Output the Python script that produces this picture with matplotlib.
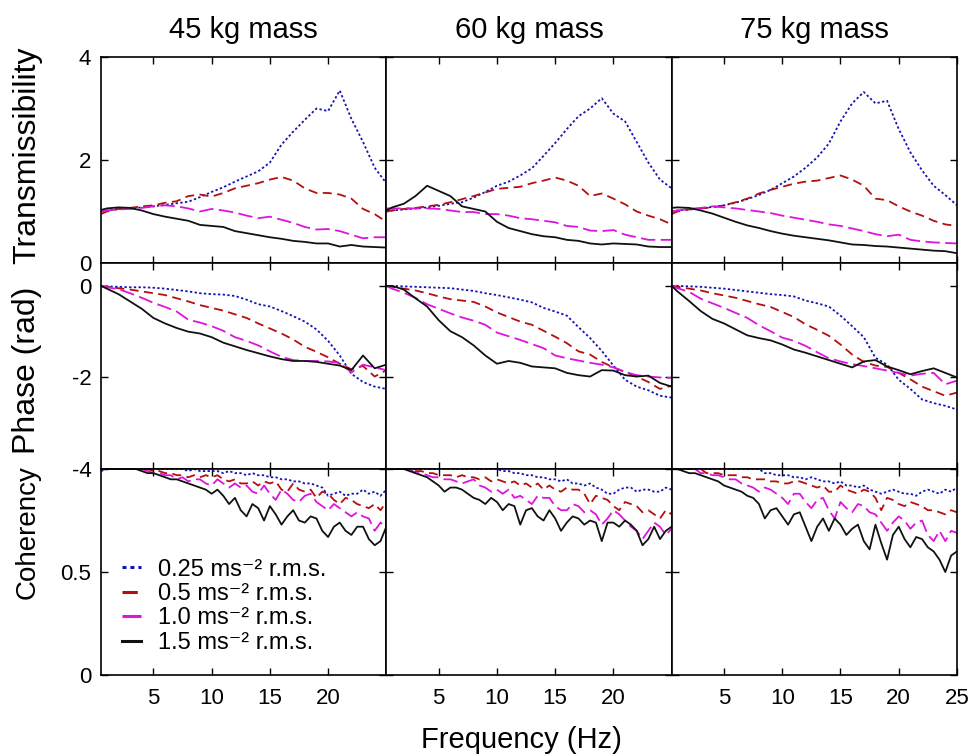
import numpy as np
import matplotlib
matplotlib.use("Agg")
import matplotlib.pyplot as plt

plt.rcParams['font.family'] = ['Liberation Sans', 'DejaVu Sans']
plt.rcParams['axes.unicode_minus'] = False

masses = ["45 kg mass", "60 kg mass", "75 kg mass"]
levels = ["0.25 ms\u207b\u00b2 r.m.s.", "0.5 ms\u207b\u00b2 r.m.s.", "1.0 ms\u207b\u00b2 r.m.s.", "1.5 ms\u207b\u00b2 r.m.s."]

# frequency grids (Hz)
f_tp = [0.5] + list(range(1, 26))
f_coh = [0.5 * k for k in range(1, 51)]

# transmissibility, per mass: 0.25, 0.5, 1.0, 1.5 ms-2
trans_45 = [
    [1.0, 1.02, 1.05, 1.06, 1.08, 1.1, 1.13, 1.16, 1.19, 1.28, 1.38, 1.47, 1.58, 1.68, 1.78, 1.95, 2.3, 2.55, 2.78, 3.0, 2.95, 3.35, 2.8, 2.35, 1.85, 1.55],
    [0.95, 1.0, 1.05, 1.07, 1.1, 1.12, 1.17, 1.2, 1.3, 1.33, 1.29, 1.36, 1.45, 1.5, 1.55, 1.62, 1.67, 1.6, 1.45, 1.36, 1.36, 1.33, 1.25, 1.05, 0.95, 0.8],
    [1.0, 1.02, 1.04, 1.05, 1.07, 1.1, 1.12, 1.1, 1.06, 1.0, 1.05, 1.02, 0.98, 0.92, 0.87, 0.9, 0.84, 0.78, 0.7, 0.65, 0.66, 0.62, 0.55, 0.48, 0.5, 0.5],
    [1.03, 1.06, 1.08, 1.07, 1.02, 0.95, 0.9, 0.86, 0.82, 0.74, 0.72, 0.7, 0.62, 0.58, 0.54, 0.5, 0.47, 0.43, 0.41, 0.38, 0.38, 0.32, 0.35, 0.32, 0.31, 0.3],
]
trans_60 = [
    [1.0, 1.02, 1.04, 1.06, 1.08, 1.11, 1.15, 1.18, 1.27, 1.38, 1.5, 1.58, 1.7, 1.84, 2.08, 2.33, 2.6, 2.85, 3.0, 3.2, 2.9, 2.75, 2.35, 1.95, 1.62, 1.45],
    [1.0, 1.02, 1.05, 1.07, 1.1, 1.13, 1.18, 1.24, 1.3, 1.37, 1.44, 1.46, 1.48, 1.55, 1.6, 1.66, 1.6, 1.5, 1.3, 1.35, 1.25, 1.14, 1.0, 0.92, 0.85, 0.75],
    [1.06, 1.06, 1.06, 1.06, 1.06, 1.05, 1.02, 0.99, 0.99, 0.95, 0.95, 0.92, 0.87, 0.85, 0.82, 0.79, 0.72, 0.7, 0.63, 0.62, 0.64, 0.55, 0.5, 0.45, 0.45, 0.45],
    [1.02, 1.08, 1.15, 1.3, 1.5, 1.4, 1.3, 1.1, 1.05, 1.0, 0.8, 0.68, 0.62, 0.56, 0.52, 0.5, 0.45, 0.43, 0.38, 0.36, 0.38, 0.37, 0.36, 0.32, 0.31, 0.31],
]
trans_75 = [
    [1.0, 1.02, 1.04, 1.06, 1.09, 1.12, 1.17, 1.24, 1.32, 1.42, 1.55, 1.68, 1.85, 2.05, 2.32, 2.75, 3.1, 3.32, 3.1, 3.15, 2.6, 2.15, 1.8, 1.5, 1.32, 1.12],
    [0.95, 1.0, 1.04, 1.06, 1.08, 1.12, 1.18, 1.25, 1.35, 1.42, 1.48, 1.54, 1.58, 1.6, 1.65, 1.7, 1.62, 1.5, 1.25, 1.22, 1.1, 1.0, 0.92, 0.82, 0.75, 0.72],
    [1.0, 1.02, 1.05, 1.07, 1.1, 1.08, 1.06, 1.03, 1.0, 0.97, 0.92, 0.88, 0.84, 0.8, 0.75, 0.72, 0.67, 0.62, 0.56, 0.52, 0.55, 0.45, 0.42, 0.4, 0.39, 0.38],
    [1.07, 1.08, 1.07, 1.02, 0.96, 0.88, 0.8, 0.73, 0.68, 0.62, 0.57, 0.53, 0.5, 0.47, 0.44, 0.4, 0.36, 0.35, 0.33, 0.32, 0.3, 0.28, 0.26, 0.24, 0.23, 0.19],
]

# phase (rad)
phase_45 = [
    [0, -0.01, -0.02, -0.03, -0.03, -0.04, -0.06, -0.09, -0.12, -0.16, -0.18, -0.19, -0.22, -0.3, -0.4, -0.45, -0.55, -0.66, -0.78, -0.95, -1.2, -1.52, -1.92, -2.1, -2.2, -2.25],
    [0, -0.02, -0.05, -0.08, -0.12, -0.16, -0.2, -0.27, -0.34, -0.42, -0.48, -0.54, -0.62, -0.7, -0.82, -0.93, -1.04, -1.17, -1.33, -1.44, -1.56, -1.7, -1.82, -1.75, -1.98, -1.84],
    [0, -0.03, -0.07, -0.16, -0.26, -0.37, -0.46, -0.56, -0.74, -0.8, -0.88, -0.98, -1.12, -1.2, -1.3, -1.43, -1.55, -1.62, -1.64, -1.64, -1.65, -1.68, -1.89, -1.72, -1.78, -1.84],
    [0, -0.06, -0.18, -0.34, -0.5, -0.7, -0.82, -0.92, -1.0, -1.04, -1.12, -1.24, -1.32, -1.4, -1.47, -1.54, -1.6, -1.64, -1.64, -1.66, -1.7, -1.74, -1.84, -1.52, -1.8, -1.72],
]
phase_60 = [
    [0, 0, -0.01, -0.02, -0.03, -0.04, -0.05, -0.08, -0.11, -0.16, -0.2, -0.25, -0.3, -0.36, -0.48, -0.56, -0.65, -0.9, -1.14, -1.42, -1.74, -2.05, -2.2, -2.28, -2.4, -2.44],
    [0, -0.02, -0.06, -0.1, -0.16, -0.23, -0.29, -0.32, -0.35, -0.45, -0.58, -0.68, -0.78, -0.85, -0.98, -1.11, -1.25, -1.43, -1.5, -1.66, -1.78, -1.88, -1.98, -2.1, -2.25, -2.18],
    [0, -0.06, -0.15, -0.26, -0.4, -0.5, -0.6, -0.69, -0.76, -0.85, -1.02, -1.1, -1.18, -1.27, -1.36, -1.52, -1.58, -1.63, -1.68, -1.72, -1.78, -1.88, -1.95, -1.98, -2.0, -2.01],
    [0, 0, -0.08, -0.27, -0.45, -0.75, -0.99, -1.12, -1.3, -1.52, -1.7, -1.64, -1.68, -1.76, -1.78, -1.8, -1.9, -1.95, -1.98, -1.84, -1.85, -1.95, -1.98, -1.96, -2.12, -2.2],
]
phase_75 = [
    [0, 0, -0.01, -0.02, -0.04, -0.06, -0.09, -0.12, -0.15, -0.18, -0.2, -0.23, -0.32, -0.38, -0.45, -0.65, -0.88, -1.12, -1.57, -1.72, -2.05, -2.25, -2.48, -2.56, -2.62, -2.7],
    [0, -0.02, -0.06, -0.1, -0.16, -0.21, -0.26, -0.33, -0.4, -0.46, -0.57, -0.68, -0.84, -0.96, -1.09, -1.28, -1.5, -1.66, -1.74, -1.77, -1.9, -2.04, -2.2, -2.3, -2.4, -2.33],
    [0, -0.05, -0.13, -0.28, -0.38, -0.48, -0.59, -0.7, -0.86, -0.99, -1.13, -1.2, -1.31, -1.45, -1.58, -1.65, -1.71, -1.75, -1.8, -1.85, -1.9, -1.96, -1.92, -1.9, -2.15, -2.07],
    [0, -0.12, -0.33, -0.55, -0.72, -0.82, -0.95, -1.08, -1.14, -1.19, -1.28, -1.39, -1.46, -1.54, -1.62, -1.7, -1.78, -1.65, -1.62, -1.76, -1.84, -1.93, -1.86, -1.8, -1.9, -2.0],
]

# coherency, 0.5 Hz steps
coh_45 = [
    [0.99, 1, 1, 1, 1, 1, 1, 1, 1, 1, 1, 1, 1, 1, 1, 0.99, 1, 0.99, 0.99, 0.99, 0.99, 0.98, 0.99, 0.98, 0.98, 0.97, 0.98, 0.97, 0.97, 0.96, 0.96, 0.95, 0.95, 0.94, 0.94, 0.93, 0.93, 0.92, 0.91, 0.87, 0.88, 0.89, 0.87, 0.88, 0.88, 0.9, 0.88, 0.89, 0.87, 0.9],
    [1, 1, 1, 1, 1, 1, 1, 1, 1, 0.99, 0.99, 0.98, 0.98, 0.97, 0.97, 0.96, 0.97, 0.96, 0.97, 0.96, 0.97, 0.95, 0.94, 0.95, 0.93, 0.93, 0.94, 0.92, 0.94, 0.93, 0.94, 0.9, 0.89, 0.93, 0.9, 0.89, 0.9, 0.86, 0.89, 0.88, 0.85, 0.83, 0.86, 0.85, 0.83, 0.82, 0.81, 0.83, 0.8, 0.84],
    [1, 1, 1, 1, 1, 1, 1, 1, 0.99, 0.98, 0.98, 0.97, 0.97, 0.95, 0.96, 0.94, 0.95, 0.95, 0.93, 0.92, 0.95, 0.93, 0.91, 0.93, 0.91, 0.92, 0.89, 0.88, 0.92, 0.88, 0.85, 0.9, 0.88, 0.85, 0.84, 0.87, 0.88, 0.84, 0.82, 0.8, 0.83, 0.81, 0.79, 0.77, 0.79, 0.77, 0.76, 0.7, 0.74, 0.72],
    [1, 1, 1, 1, 1, 1, 1, 0.99, 0.98, 0.98, 0.97, 0.96, 0.95, 0.95, 0.94, 0.93, 0.92, 0.91, 0.9, 0.88, 0.9, 0.87, 0.83, 0.86, 0.8, 0.77, 0.83, 0.81, 0.75, 0.82, 0.78, 0.73, 0.77, 0.8, 0.75, 0.74, 0.77, 0.76, 0.7, 0.67, 0.72, 0.74, 0.7, 0.68, 0.72, 0.72, 0.66, 0.63, 0.65, 0.72],
]
coh_60 = [
    [1, 1, 1, 1, 1, 1, 1, 1, 1, 1, 1, 1, 1, 1, 1, 1, 1, 1, 1, 1, 0.99, 0.99, 0.98, 0.98, 0.97, 0.97, 0.96, 0.96, 0.95, 0.95, 0.94, 0.95, 0.93, 0.93, 0.92, 0.93, 0.91, 0.9, 0.88, 0.88, 0.9, 0.91, 0.91, 0.89, 0.9, 0.9, 0.89, 0.89, 0.91, 0.9],
    [1, 1, 1, 1, 1, 0.99, 0.99, 0.98, 0.98, 0.97, 0.97, 0.97, 0.96, 0.97, 0.96, 0.96, 0.95, 0.96, 0.94, 0.95, 0.94, 0.93, 0.94, 0.92, 0.93, 0.91, 0.93, 0.9, 0.92, 0.9, 0.89, 0.91, 0.9, 0.9, 0.88, 0.83, 0.87, 0.86, 0.85, 0.82, 0.8, 0.84, 0.83, 0.82, 0.79, 0.8, 0.78, 0.76, 0.8, 0.78],
    [1, 1, 1, 1, 1, 0.98, 0.98, 0.97, 0.96, 0.96, 0.95, 0.95, 0.94, 0.93, 0.94, 0.95, 0.92, 0.91, 0.89, 0.9, 0.88, 0.9, 0.86, 0.87, 0.85, 0.83, 0.87, 0.86, 0.86, 0.82, 0.8, 0.8, 0.83, 0.82, 0.79, 0.8, 0.78, 0.73, 0.76, 0.8, 0.78, 0.75, 0.72, 0.7, 0.66, 0.7, 0.74, 0.72, 0.68, 0.71],
    [1, 1, 1, 1, 0.99, 0.98, 0.97, 0.96, 0.94, 0.92, 0.89, 0.91, 0.91, 0.9, 0.88, 0.86, 0.85, 0.83, 0.86, 0.84, 0.8, 0.83, 0.82, 0.73, 0.8, 0.81, 0.77, 0.75, 0.8, 0.76, 0.7, 0.74, 0.77, 0.76, 0.73, 0.75, 0.74, 0.65, 0.74, 0.74, 0.72, 0.75, 0.73, 0.7, 0.63, 0.66, 0.72, 0.66, 0.7, 0.72],
]
coh_75 = [
    [1, 1, 1, 1, 1, 1, 1, 1, 1, 1, 1, 1, 1, 1, 1, 1, 0.98, 0.98, 0.97, 0.97, 0.97, 0.96, 0.96, 0.95, 0.96, 0.95, 0.94, 0.94, 0.93, 0.94, 0.92, 0.92, 0.91, 0.92, 0.9, 0.89, 0.88, 0.89, 0.9, 0.89, 0.88, 0.88, 0.87, 0.89, 0.9, 0.89, 0.88, 0.9, 0.89, 0.91],
    [1, 1, 1, 1, 1, 1, 0.98, 0.98, 0.98, 0.97, 0.97, 0.97, 0.96, 0.96, 0.95, 0.95, 0.95, 0.94, 0.94, 0.93, 0.93, 0.94, 0.94, 0.93, 0.92, 0.91, 0.92, 0.89, 0.89, 0.92, 0.9, 0.89, 0.88, 0.9, 0.89, 0.86, 0.8, 0.86, 0.85, 0.83, 0.82, 0.84, 0.83, 0.82, 0.8, 0.8, 0.79, 0.78, 0.8, 0.79],
    [1, 1, 1, 1, 1, 0.98, 0.98, 0.97, 0.97, 0.96, 0.95, 0.95, 0.93, 0.92, 0.91, 0.89, 0.91, 0.9, 0.88, 0.86, 0.83, 0.88, 0.88, 0.84, 0.81, 0.85, 0.86, 0.8, 0.76, 0.84, 0.81, 0.79, 0.83, 0.82, 0.79, 0.78, 0.74, 0.7, 0.74, 0.77, 0.75, 0.71, 0.74, 0.75, 0.68, 0.65, 0.7, 0.65, 0.7, 0.69],
    [1, 1, 0.99, 0.98, 0.98, 0.97, 0.96, 0.95, 0.94, 0.92, 0.91, 0.9, 0.89, 0.87, 0.86, 0.83, 0.76, 0.8, 0.81, 0.77, 0.73, 0.78, 0.79, 0.72, 0.65, 0.72, 0.76, 0.7, 0.76, 0.73, 0.68, 0.71, 0.73, 0.65, 0.61, 0.73, 0.64, 0.56, 0.68, 0.72, 0.66, 0.62, 0.67, 0.66, 0.62, 0.6, 0.56, 0.5, 0.58, 0.6],
]

trans = [trans_45, trans_60, trans_75]
phase = [phase_45, phase_60, phase_75]
coh = [coh_45, coh_60, coh_75]

colors = ['#1414b4', '#b40f0f', '#dc14dc', '#111111']
dashes = [(1.3, 1.3), (5, 3), (8, 3), None]

fig, axes = plt.subplots(3, 3, figsize=(9.74, 7.56), dpi=100)
fig.subplots_adjust(left=0.1037, right=0.9825, top=0.9246, bottom=0.1071, hspace=0, wspace=0)

for c in range(3):
    for r, data, fx in [(0, trans[c], f_tp), (1, phase[c], f_tp), (2, coh[c], f_coh)]:
        ax = axes[r, c]
        for k in range(4):
            ln, = ax.plot(fx, data[k], color=colors[k], lw=1.3, label=levels[k])
            if dashes[k] is not None:
                ln.set_dashes(dashes[k])
        ax.set_xlim(0.5, 25)
        ax.set_xticks([5, 10, 15, 20, 25])
        if r < 2:
            ax.set_xticklabels([])
        else:
            ax.set_xticklabels(['5', '10', '15', '20', '25' if c == 2 else ''])
        ax.tick_params(direction='in', top=True, right=True, length=5, width=1, labelsize=16)
        ax.tick_params(axis='x', pad=9)
        ax.tick_params(axis='y', pad=7)
        for s in ax.spines.values():
            s.set_linewidth(1.2)
        if r == 0:
            ax.set_ylim(0, 4)
            ax.set_yticks([0, 2, 4])
            ax.set_title(masses[c], fontsize=21, pad=14)
        elif r == 1:
            ax.set_ylim(-4, 0.5)
            ax.set_yticks([-4, -2, 0])
        else:
            ax.set_ylim(0, 1)
            ax.set_yticks([0, 0.5, 1])
            ax.set_yticklabels(['0', '0.5', ''])
        if c > 0:
            ax.tick_params(labelleft=False)

leg = axes[2, 0].legend(loc='lower left', bbox_to_anchor=(0.0, 0.0), frameon=False,
                        fontsize=17, handlelength=0.8, handletextpad=0.7, labelspacing=0.1,
                        borderaxespad=0.5, borderpad=0.4)
for h in leg.get_lines():
    h.set_linewidth(2.2)

fig.text(0.028, 0.795, "Transmissibility", rotation=90, ha='center', va='center', fontsize=23)
fig.text(0.028, 0.51, "Phase (rad)", rotation=90, ha='center', va='center', fontsize=23)
fig.text(0.028, 0.296, "Coherency", rotation=90, ha='center', va='center', fontsize=20)
fig.text(0.535, 0.021, "Frequency (Hz)", ha='center', va='center', fontsize=21)

fig.savefig("out.png", dpi=100)
